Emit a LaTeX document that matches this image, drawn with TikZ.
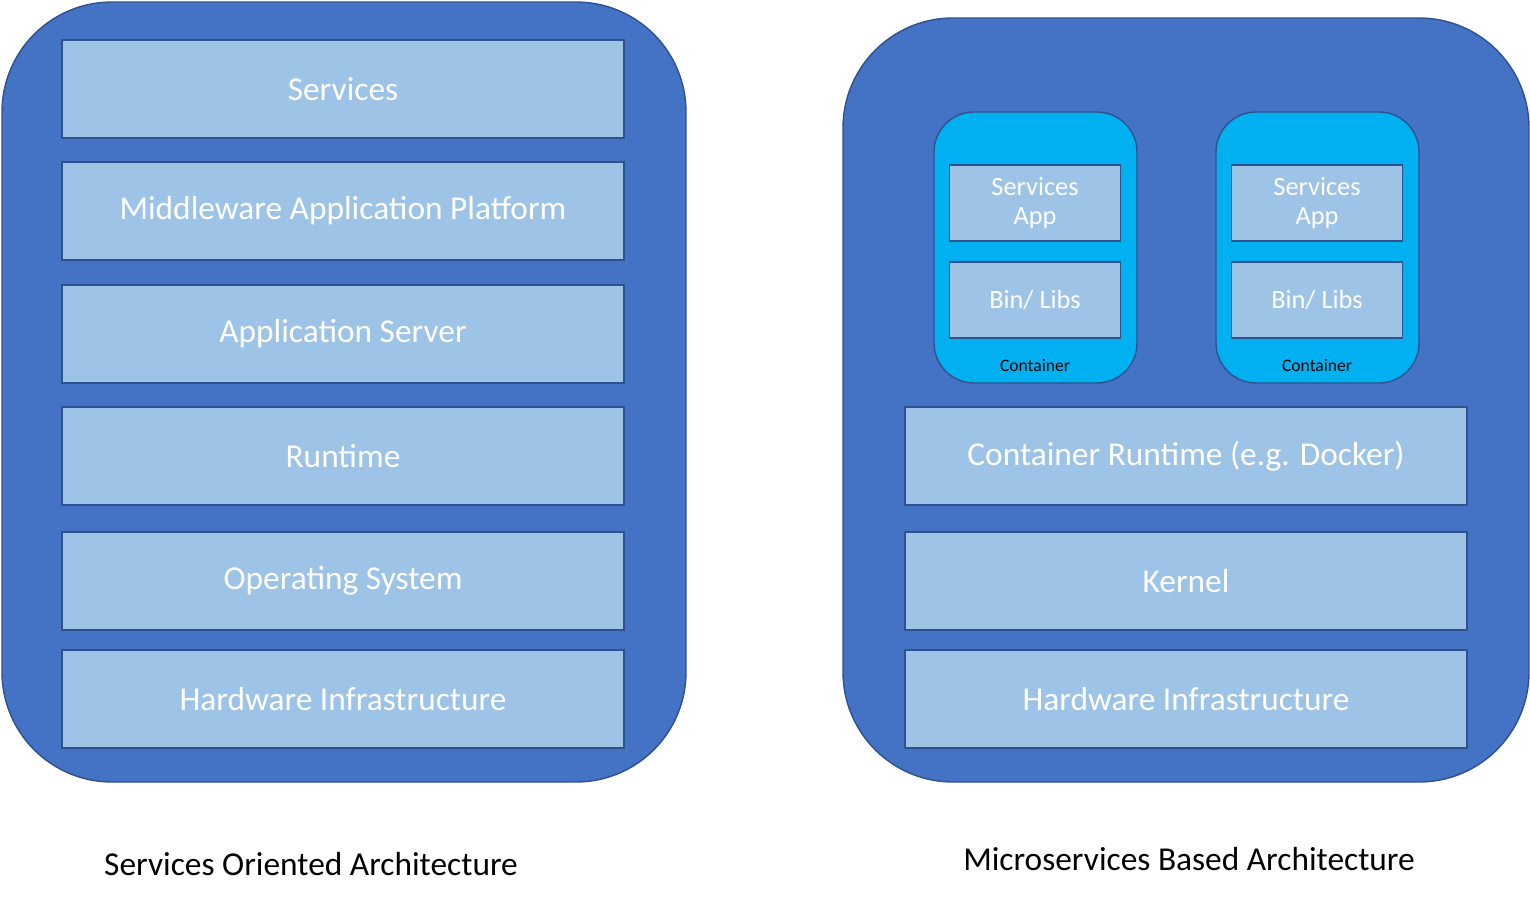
\documentclass[tikz,border=0pt]{standalone}
\usepackage{fontspec}
\setmainfont{Carlito}
\usetikzlibrary{positioning}
\definecolor{panelblue}{HTML}{4472C4}
\definecolor{edgeblue}{HTML}{2F528F}
\definecolor{layerblue}{HTML}{9DC3E6}
\definecolor{boxcyan}{HTML}{00B0F0}
\tikzset{
  panel/.style={draw=edgeblue, fill=panelblue, rounded corners=2.2cm, line width=0.8pt},
  layer/.style={draw=edgeblue, fill=layerblue, line width=0.8pt, text=white,
    minimum width=11.24cm, minimum height=1.96cm, inner sep=0pt, font=\fontsize{19}{22}\selectfont},
  cbox/.style={draw=edgeblue, fill=boxcyan, rounded corners=0.8cm, line width=0.8pt},
  appbox/.style={draw=edgeblue, fill=layerblue, line width=0.8pt, text=white, align=center,
    minimum width=3.42cm, minimum height=1.52cm, inner sep=0pt, font=\fontsize{15}{16}\selectfont},
  caption/.style={font=\fontsize{19}{22}\selectfont}
}
\begin{document}
\begin{tikzpicture}[x=0.02cm, y=-0.02cm]
\useasboundingbox (0,0) rectangle (1530,910);
% left stack
\draw[panel] (2,2) rectangle (686,782);
\node[layer] (svc) at (343,89) {Services};
\node[layer] (mid) at (343,211) {Middleware Application Platform};
\node[layer] (apps) at (343,334) {Application Server};
\node[layer] (rt) at (343,456) {Runtime};
\node[layer] (os) at (343,581) {Operating System};
\node[layer] (hwl) at (343,699) {Hardware Infrastructure};
\node[caption] (soa) at (311,864) {Services Oriented Architecture};
% right stack
\draw[panel] (843,18) rectangle (1529,782);
\foreach \n/\cx in {ca/1035, cb/1317} {
  \draw[cbox] (\cx-101,112) rectangle (\cx+102,383);
  \node[appbox] (\n app) at (\cx,203) {Services\\App};
  \node[appbox] (\n lib) at (\cx,300) {Bin/ Libs};
  \node[font=\fontsize{10}{12}\selectfont] (\n lbl) at (\cx,366) {Container};
}
\node[layer] (crt) at (1186,456) {Container Runtime (e.g. Docker)};
\node[layer] (krn) at (1186,581) {Kernel};
\node[layer] (hwr) at (1186,699) {Hardware Infrastructure};
\node[caption] (msa) at (1189,859) {Microservices Based Architecture};
\end{tikzpicture}
\end{document}
